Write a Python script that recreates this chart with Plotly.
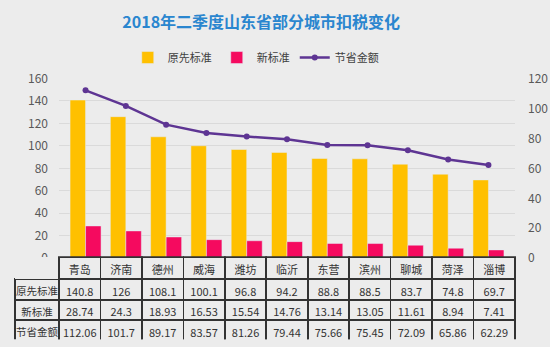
import plotly.graph_objects as go

cities = ["青岛", "济南", "德州", "威海", "潍坊", "临沂", "东营", "滨州", "聊城", "菏泽", "淄博"]
old_std = [140.8, 126, 108.1, 100.1, 96.8, 94.2, 88.8, 88.5, 83.7, 74.8, 69.7]
new_std = [28.74, 24.3, 18.93, 16.53, 15.54, 14.76, 13.14, 13.05, 11.61, 8.94, 7.41]
saved = [112.06, 101.7, 89.17, 83.57, 81.26, 79.44, 75.66, 75.45, 72.09, 65.86, 62.29]
saved_labels = ["112.06", "101.7", "89.17", "83.57", "81.26", "79.44", "75.66", "75.45", "72.09", "65.86", "62.29"]
old_labels = ["140.8", "126", "108.1", "100.1", "96.8", "94.2", "88.8", "88.5", "83.7", "74.8", "69.7"]
new_labels = ["28.74", "24.3", "18.93", "16.53", "15.54", "14.76", "13.14", "13.05", "11.61", "8.94", "7.41"]
row_names = ["原先标准", "新标准", "节省金额"]
series_names = ["原先标准", "新标准", "节省金额"]

W, H = 550, 347
BG = "#ECECEC"
FONT = "Noto Sans CJK SC"

fig = go.Figure()
fig.add_trace(go.Bar(x=cities, y=old_std, name=series_names[0], marker_color="#FFC000",
                     xaxis="x", yaxis="y"))
fig.add_trace(go.Bar(x=cities, y=new_std, name=series_names[1], marker_color="#F50A5F",
                     xaxis="x", yaxis="y"))
fig.add_trace(go.Scatter(x=cities, y=saved, name=series_names[2], mode="lines+markers",
                         line=dict(color="#5E3593", width=2.5),
                         marker=dict(size=6, color="#5E3593"),
                         xaxis="x", yaxis="y2"))

# table
px0, px1 = 15, 515
py_top, py_bot = 260, 347
label_w = 59 - 15
col_w = (515 - 59) / 11
header_vals = [""] + cities
cell_vals = [row_names] + [[o, n, s] for o, n, s in zip(old_labels, new_labels, saved_labels)]
header_line = ["rgba(0,0,0,0)"] + ["#333333"] * 11
fig.add_trace(go.Table(
    domain=dict(x=[px0 / W, px1 / W], y=[(H - py_bot) / H, (H - py_top) / H]),
    columnwidth=[label_w] + [col_w] * 11,
    header=dict(values=header_vals, height=22, align="center",
                fill=dict(color=BG), line=dict(color=header_line, width=1.6),
                font=dict(family=FONT, size=11, color="#333333")),
    cells=dict(values=cell_vals, height=20.5, align="center",
               fill=dict(color=BG), line=dict(color="#333333", width=1.6),
               font=dict(family=FONT, size=[10.5] + [11] * 11, color="#333333")),
))

fig.update_layout(
    width=W, height=H,
    margin=dict(l=0, r=0, t=0, b=0),
    paper_bgcolor=BG, plot_bgcolor=BG,
    font=dict(family=FONT, color="#595959"),
    title=dict(text="<b>2018年二季度山东省部分城市扣税变化</b>", x=0.475, xanchor="center",
               y=1 - 22 / H, yanchor="middle",
               font=dict(family=FONT, size=16, color="#2A86CF")),
    legend=dict(orientation="h", x=0.465, xanchor="center", y=1 - 50 / H, yanchor="middle",
                font=dict(family=FONT, size=11, color="#404040"), bgcolor="rgba(0,0,0,0)",
                itemwidth=30, traceorder="normal"),
    barmode="group", bargap=0.23, bargroupgap=0,
    showlegend=True,
    xaxis=dict(domain=[59 / W, 515 / W], showticklabels=False, showgrid=False,
               zeroline=False, showline=False, anchor="y"),
    yaxis=dict(domain=[(H - 261) / H, (H - 72) / H], range=[0, 160], dtick=20,
               gridcolor="#DADADA", zeroline=False, showline=False,
               tickfont=dict(family=FONT, size=12, color="#595959"), ticks="",
               ticklabelstandoff=10, anchor="x"),
    yaxis2=dict(overlaying="y", side="right", range=[0, 120], dtick=20,
                showgrid=False, zeroline=False, showline=False,
                tickfont=dict(family=FONT, size=12, color="#595959"),
                ticklabelstandoff=12, anchor="x"),
)

fig.write_html("out.html")
